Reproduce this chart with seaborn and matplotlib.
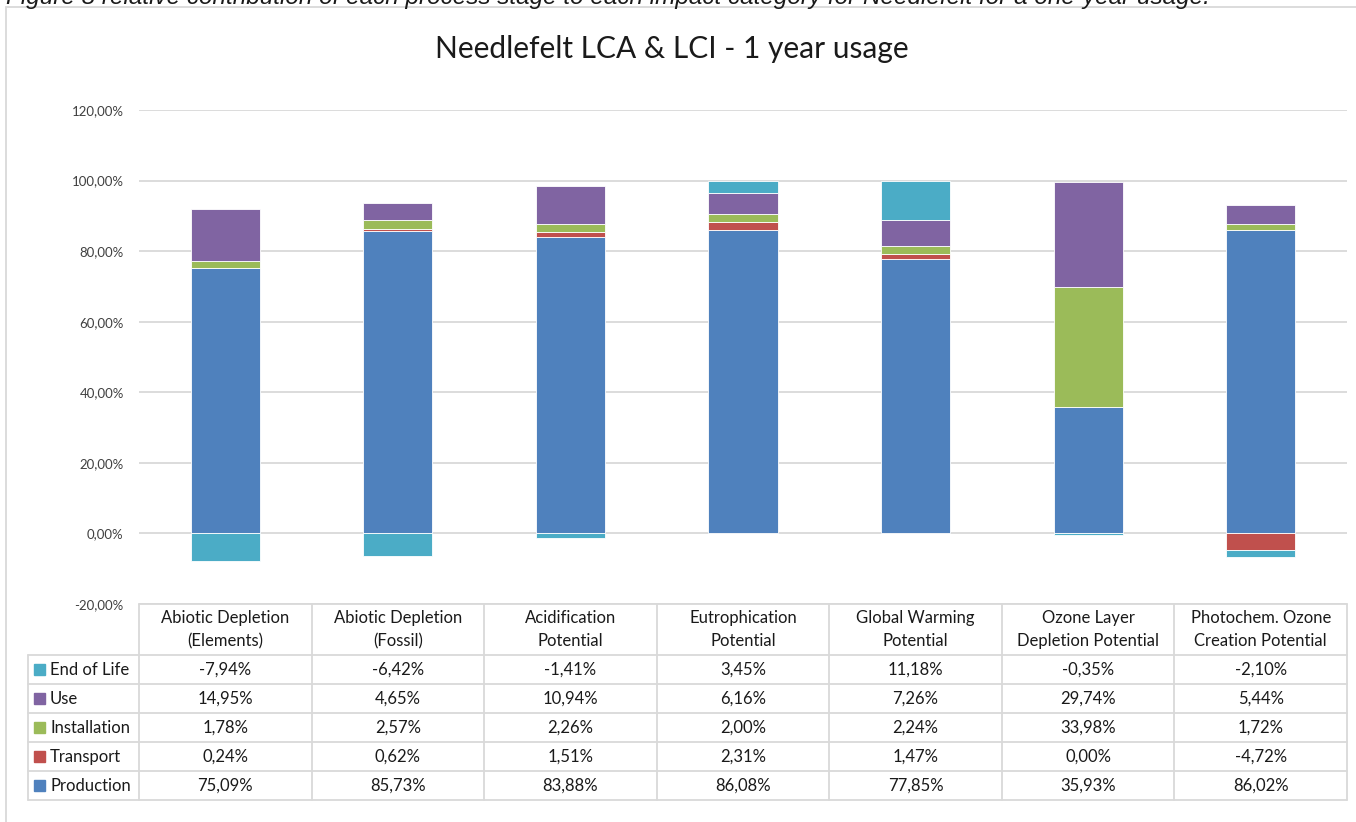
import numpy as np
import matplotlib
matplotlib.use("Agg")
import matplotlib.pyplot as plt
from matplotlib.patches import Rectangle
from matplotlib.lines import Line2D
import seaborn as sns

# ==========================================
# Data (read off the chart's data table)
# ==========================================
categories = ["Abiotic Depletion\n(Elements)", "Abiotic Depletion\n(Fossil)",
              "Acidification\nPotential", "Eutrophication\nPotential",
              "Global Warming\nPotential", "Ozone Layer\nDepletion Potential",
              "Photochem. Ozone\nCreation Potential"]
stages = ["Production", "Transport", "Installation", "Use", "End of Life"]
production = [75.09, 85.73, 83.88, 86.08, 77.85, 35.93, 86.02]
transport = [0.24, 0.62, 1.51, 2.31, 1.47, 0.00, -4.72]
installation = [1.78, 2.57, 2.26, 2.00, 2.24, 33.98, 1.72]
use = [14.95, 4.65, 10.94, 6.16, 7.26, 29.74, 5.44]
end_of_life = [-7.94, -6.42, -1.41, 3.45, 11.18, -0.35, -2.10]
stage_colors = ["#4F81BD", "#C0504D", "#9BBB59", "#8064A2", "#4BACC6"]
yticks = [-20, 0, 20, 40, 60, 80, 100, 120]

title = "Needlefelt LCA & LCI - 1 year usage"
caption = ("Figure 8 relative contribution of each process stage to each impact "
           "category for Needlefelt for a one-year usage.")

series = [production, transport, installation, use, end_of_life]

# ==========================================
# Style
# ==========================================
sns.set_theme(style="white")
plt.rcParams['font.family'] = ['Lato', 'DejaVu Sans']

W, H = 1356, 822
fig = plt.figure(figsize=(W / 100, H / 100), dpi=100)
fig.patch.set_facecolor("white")

def fx(px):
    return px / W

def fy(py):
    return 1 - py / H

ax = fig.add_axes([fx(139), fy(604), fx(1347) - fx(139), fy(110) - fy(604)])

# ==========================================
# Stacked bars (positive up, negative down, like Excel)
# ==========================================
pos_base = np.zeros(len(categories))
neg_base = np.zeros(len(categories))
for vals, col in zip(series, stage_colors):
    vals = np.array(vals)
    bottom = np.where(vals >= 0, pos_base, neg_base)
    sns.barplot(x=categories, y=vals, bottom=bottom, color=col, saturation=1,
                width=0.4, errorbar=None, ax=ax, edgecolor="white", linewidth=0.6,
                zorder=3)
    pos_base = pos_base + np.where(vals >= 0, vals, 0)
    neg_base = neg_base + np.where(vals < 0, vals, 0)

ax.set_xlim(-0.5, len(categories) - 0.5)
ax.set_ylim(-20, 120)
ax.set_yticks(yticks)
ax.set_yticklabels([f"{t:.2f}%".replace(".", ",") for t in yticks],
                   fontsize=9.5, color="#404040")
ax.tick_params(axis="y", length=0, pad=11)
ax.tick_params(axis="x", length=0, labelbottom=False)
ax.set_xlabel("")
ax.set_ylabel("")
ax.yaxis.grid(True, color="#D9D9D9", linewidth=1.3, zorder=0)
ax.set_axisbelow(True)
for s in ax.spines.values():
    s.set_visible(False)

# ==========================================
# Data table under the chart
# ==========================================
ov = fig.add_axes([0, 0, 1, 1], zorder=5)
ov.set_xlim(0, W)
ov.set_ylim(H, 0)
ov.axis("off")

def data_to_px(x):
    disp = ax.transData.transform((x, 0))
    return disp[0] * W / fig.bbox.width

edges = [data_to_px(i - 0.5) for i in range(len(categories) + 1)]
centers = [data_to_px(i) for i in range(len(categories))]
tbl_left = 28
head_top, head_bot = 604, 655
row_h = 29
grid_c = "#D9D9D9"
lw = 1.3
txt_c = "#1a1a1a"
fs = 12

# header
ov.add_line(Line2D([edges[0], edges[-1]], [head_top, head_top], color=grid_c, lw=lw))
n_rows = len(stages)
rows_bot = head_bot + n_rows * row_h
for e in edges:
    ov.add_line(Line2D([e, e], [head_top, rows_bot], color=grid_c, lw=lw))
ov.add_line(Line2D([tbl_left, tbl_left], [head_bot, rows_bot], color=grid_c, lw=lw))
for r in range(n_rows + 1):
    y = head_bot + r * row_h
    ov.add_line(Line2D([tbl_left, edges[-1]], [y, y], color=grid_c, lw=lw))

for c, lab in zip(centers, categories):
    ov.text(c, (head_top + head_bot) / 2, lab, ha="center", va="center",
            fontsize=fs, color=txt_c, linespacing=1.6)

table_order = list(range(len(stages)))[::-1]
for r, si in enumerate(table_order):
    yc = head_bot + r * row_h + row_h / 2
    ov.add_patch(Rectangle((34, yc - 5.5), 11, 11, color=stage_colors[si]))
    ov.text(50, yc, stages[si], ha="left", va="center", fontsize=fs, color=txt_c)
    for c, v in zip(centers, series[si]):
        ov.text(c, yc, f"{v:.2f}%".replace(".", ","), ha="center", va="center",
                fontsize=fs, color=txt_c)

# ==========================================
# Title, caption and chart frame
# ==========================================
fig.text(fx(672), fy(49), title, ha="center", va="center", fontsize=21.5, color=txt_c)
fig.text(fx(6), fy(4), caption, ha="left", va="baseline", fontsize=17.5,
         style="italic", family=["Liberation Sans", "DejaVu Sans"], color=txt_c)
fig.add_artist(Rectangle((fx(6), -0.1), 2, fy(7) + 0.1, fill=False,
                         edgecolor="#D9D9D9", lw=1.3, transform=fig.transFigure))

fig.savefig("out.png", dpi=100)
